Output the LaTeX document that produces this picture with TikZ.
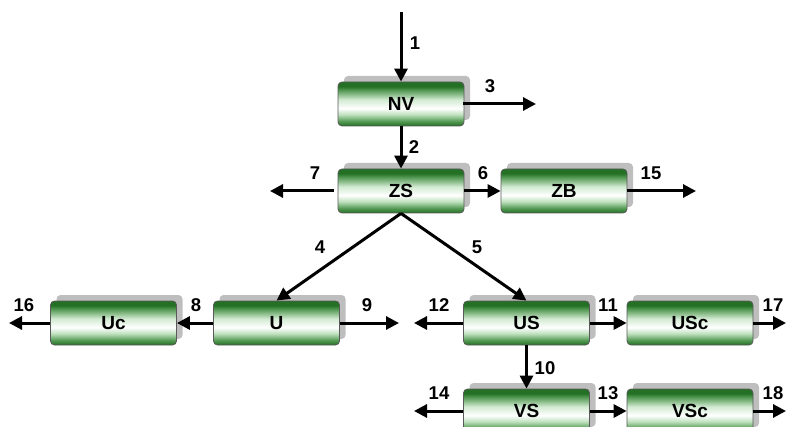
\documentclass[tikz,border=0pt]{standalone}
\usepackage{fontspec}
\setmainfont{Liberation Sans}
\usetikzlibrary{arrows.meta,shadows}
\definecolor{dkg}{RGB}{36,112,36}
\definecolor{mdg}{RGB}{80,150,80}
\definecolor{ltg}{RGB}{190,225,190}
\definecolor{shd}{RGB}{190,190,190}
\pgfdeclareverticalshading{boxgreen}{100bp}{color(0bp)=(dkg); color(25bp)=(dkg); color(30bp)=(mdg); color(38bp)=(ltg); color(45bp)=(white); color(55bp)=(ltg!70!white); color(66bp)=(mdg); color(70bp)=(dkg); color(75bp)=(dkg); color(100bp)=(dkg)}
\tikzset{
  box/.style={draw=black!65, line width=0.8pt, rounded corners=4pt, shading=boxgreen,
    minimum width=126pt, minimum height=44pt, inner sep=0pt,
    font=\fontsize{19}{19}\selectfont\bfseries,
    general shadow={fill=shd, shadow xshift=6pt, shadow yshift=6pt}},
  arr/.style={line width=3pt, -{Triangle[length=13pt,width=13pt]}},
  lbl/.style={font=\fontsize{18.5}{18.5}\selectfont\bfseries, inner sep=0pt}
}
\begin{document}
\begin{tikzpicture}[x=1pt,y=-1pt]
\useasboundingbox (0,0) rectangle (786,427);
\node[box] (NV) at (401,104) {NV};
\node[box] (ZS) at (401,191) {ZS};
\node[box] (ZB) at (564,191) {ZB};
\node[box] (Uc) at (113.5,323) {Uc};
\node[box] (U) at (276.5,323) {U};
\node[box] (US) at (526.5,323) {US};
\node[box] (USc) at (690,323) {USc};
\node[box] (VS) at (526.5,411) {VS};
\node[box] (VSc) at (690,411) {VSc};
\coordinate (in1) at (401,12);
\coordinate (o3) at (536,104);
\coordinate (o7) at (270,191);
\coordinate (o15) at (696,191);
\coordinate (o16) at (9,323);
\coordinate (o9) at (399,323);
\coordinate (o12) at (414,323);
\coordinate (o17) at (786,323);
\coordinate (o14) at (414,411);
\coordinate (o18) at (786,411);
\draw[arr] (in1) -- (NV.north);
\draw[arr] ([xshift=-1pt]NV.east) -- (o3);
\draw[arr] (NV.south) -- (ZS.north);
\draw[arr] ([xshift=-4pt]ZS.west) -- (o7);
\draw[arr] (ZS.east) -- (ZB.west);
\draw[arr] (ZB.east) -- (o15);
\draw[arr] (ZS.south) -- (U.north);
\draw[arr] (ZS.south) -- (US.north);
\draw[arr] (Uc.west) -- (o16);
\draw[arr] (U.west) -- (Uc.east);
\draw[arr] (U.east) -- (o9);
\draw[arr] (US.west) -- (o12);
\draw[arr] (US.east) -- (USc.west);
\draw[arr] (USc.east) -- (o17);
\draw[arr] (US.south) -- (VS.north);
\draw[arr] (VS.west) -- (o14);
\draw[arr] (VS.east) -- (VSc.west);
\draw[arr] (VSc.east) -- (o18);
\node[lbl] (l1) at (415,43) {1};
\node[lbl] (l2) at (414,147) {2};
\node[lbl] (l3) at (490,86) {3};
\node[lbl] (l4) at (320,247) {4};
\node[lbl] (l5) at (477,247) {5};
\node[lbl] (l6) at (483,173) {6};
\node[lbl] (l7) at (315,173) {7};
\node[lbl] (l8) at (196,305) {8};
\node[lbl] (l9) at (367,305) {9};
\node[lbl] (l10) at (545,368) {10};
\node[lbl] (l11) at (608,305) {11};
\node[lbl] (l12) at (439,305) {12};
\node[lbl] (l13) at (608,393) {13};
\node[lbl] (l14) at (439,393) {14};
\node[lbl] (l15) at (651,173) {15};
\node[lbl] (l16) at (24,305) {16};
\node[lbl] (l17) at (773,305) {17};
\node[lbl] (l18) at (773,393) {18};
\end{tikzpicture}
\end{document}
